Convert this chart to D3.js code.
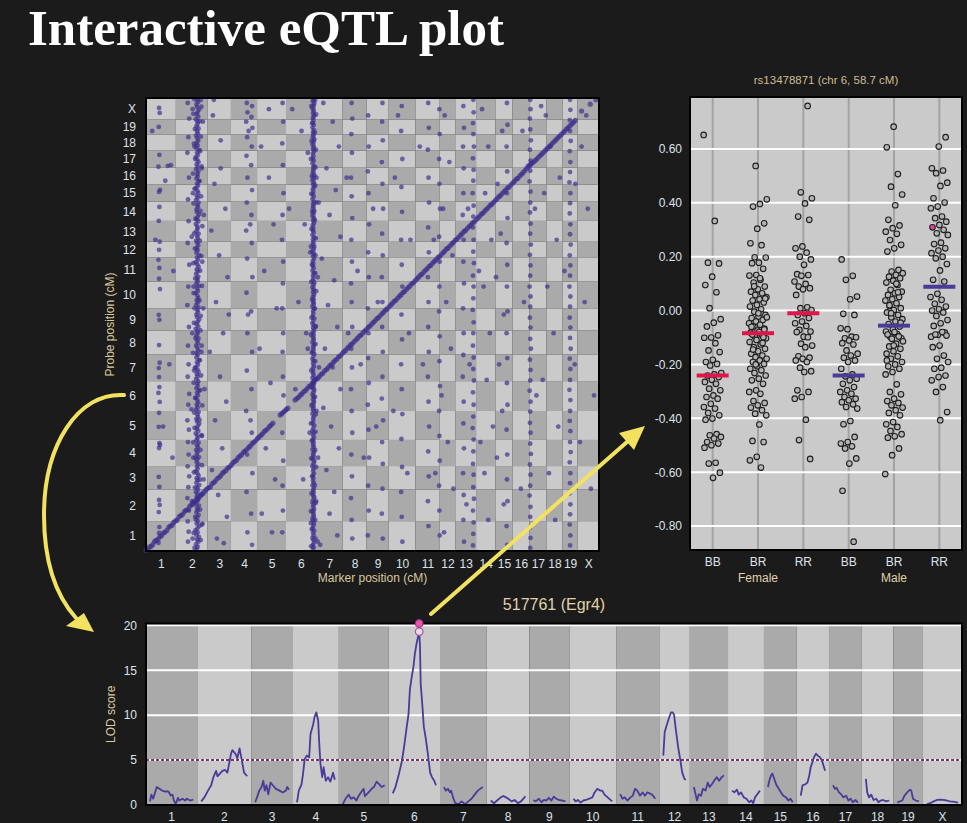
<!DOCTYPE html>
<html>
<head>
<meta charset="utf-8">
<script src="https://cdn.jsdelivr.net/npm/d3@7"></script>
<style>
  html, body { margin: 0; padding: 0; background: #1b1b1b; }
  svg { display: block; }
</style>
</head>
<body>
<svg id="chart" width="967" height="823"></svg>
<script>
// ---------- genome ----------
const chromosomes = ["1","2","3","4","5","6","7","8","9","10","11","12","13","14","15","16","17","18","19","X"];
const chrLengths = [96,102,75,84,93,96,86,77,71,86,78,50,67,62,55,54,55,52,48,69]; // cM

// ---------- cis/trans eQTL map: [marker position, probe position] pairs, genome-wide cM ----------
const cisPairs = [
0,2,6,4,11,13,17,15,22,21,28,31,33,34,39,38,45,47,50,49,56,58,61,60,67,66,73,76,78,80,84,83,89,92,95,97,100,99,106,110,112,114,117,117,123,126,128,131,134,133,140,143,145,148,151,150,156,158,162,166,167,169,173,175,179,182,184,186,190,193,195,199,201,203,207,206,212,216,218,220,223,225,229,233,235,237,240,242,246,250,251,254,257,259,263,267,268,270,274,276,279,283,285,288,291,292,296,300,302,305,307,309,313,317,318,321,324,326,330,333,335,337,341,345,346,349,352,354,358,361,363,366,369,372,374,376,380,384,385,388,391,393,397,400,402,405,408,411,
431,437,436,441,441,446,446,450,451,455,456,459,
479,485,485,490,490,494,496,501,501,505,507,512,513,516,518,522,524,529,529,532,535,540,540,543,546,551,552,555,557,561,563,568,568,571,574,579,580,583,585,589,591,596,596,599,602,606,607,612,613,616,619,624,624,627,630,634,635,640,641,644,647,651,652,656,658,663,663,666,669,673,675,679,680,684,686,691,691,694,697,701,703,707,708,712,714,719,719,722,725,729,731,735,736,740,742,747,747,750,753,757,759,763,764,768,770,775,775,778,781,785,787,791,792,796,798,803,803,806,809,813,815,819,820,824,826,831,831,834,837,841,843,847,848,852,854,859,859,862,865,869,871,875,876,880,882,887,887,890,893,897,899,903,904,908,910,915,915,918,921,925,927,931,932,936,938,943,943,946,949,953,955,959,960,964,966,971,971,974,977,981,983,987,988,992,994,999,999,1002,1005,1009,1011,1015,1016,1020,1022,1027,1027,1030,1033,1037,1039,1043,1044,1048,1050,1055,1055,1058,1061,1065,1067,1071,1072,1076,1078,1083,1083,1086,1089,1093,1095,1099,1100,1104,1106,1111,1111,1114,1117,1121,1123,1127,1128,1132,1134,1139,1139,1142,1145,1149,1151,1155,1156,1160,1162,1167,1167,1170,1173,1177,1179,1183,1184,1188,1190,1195,1195,1198,1201,1205,1207,1211,1212,1216,1218,1223,1223,1230,1229,1238,1232,1236,1236,1243,1240,1246,1245,1250,1251,1255,1256,1260,1262,1266,1268,1272,1273,1277,1279,1283,1285,1289,1290,1294,1296,1300,1301,1305,1307,1311,1313,1317,1318,1322,1324,1328,1329,1333,1335,1339,1341,1345,1346,1350,1352,1356,1357,1361,1363,1367,1369,1373,1374,1378,1380,1384,
1400,1414,1428,1436,1446,1450
];

const hotspotChr2Pairs = [
163,5,166,14,161,22,168,30,164,37,170,45,162,52,166,60,159,66,165,73,171,80,163,88,167,95,160,101,165,108,169,116,162,124,166,131,164,139,170,146,161,153,165,160,168,168,163,175,166,183,160,190,167,197,164,205,171,212,162,219,166,227,163,234,169,242,165,250,160,257,166,264,164,272,168,280,162,287,165,295,170,302,163,310,166,318,161,325,167,333,164,340,169,348,162,356,166,363,165,371,160,378,168,386,163,393,166,401,171,409,164,416,162,424,167,431,165,439,169,447,161,454,166,462,163,470,168,477,165,485,160,492,167,500,164,508,170,515,162,523,166,530,165,538,168,546,161,553,166,561,163,569,169,576,165,584,160,591,167,599,164,607,171,614,162,622,166,630,163,637,168,645,165,653,161,660,167,668,164,676,169,683,162,691,166,699,165,706,160,714,168,721,163,729,166,737,171,744,164,752,162,760,167,767,165,775,169,783,161,790,166,798,163,806,168,813,165,821,160,829,167,836,164,844,170,852,162,859,166,867,165,875,168,882,161,890,166,898,163,905,169,913,165,921,160,928,167,936,164,944,171,951,162,959,166,967,163,974,168,982,165,990,161,997,167,1005,164,1013,169,1020,162,1028,166,1036,165,1043,160,1051,168,1059,163,1066,166,1074,171,1082,164,1089,162,1097,167,1105,165,1112,169,1120,161,1128,166,1135,163,1143,168,1151,165,1158,160,1166,167,1174,164,1181,170,1189,162,1197,166,1204,165,1212,168,1220,161,1227,166,1235,163,1243,169,1250,165,1258,160,1266,167,1273,164,1281,171,1289,162,1296,166,1304,163,1312,168,1319,165,1327,161,1335,167,1342,164,1350,169,1358,162,1365,166,1373,165,1381,160,1388,168,1396,163,1404,166,1411,171,1419,164,1427,162,1435,167,1442,165,1450,
156,10,176,35,153,58,179,84,158,110,174,133,151,157,177,180,157,204,173,229,154,253,180,276,159,300,175,325,152,349,178,372,156,396,172,421,155,445,181,468,158,492,174,517,153,541,177,564,157,588,173,613,151,637,179,660,159,684,175,709,154,733,176,756,156,780,172,805,153,829,180,852,158,876,174,901,152,925,178,948,157,972,173,997,155,1021,181,1044,159,1068,175,1093,153,1117,177,1140,156,1164,172,1189,151,1213,179,1236,158,1260,174,1285,154,1309,176,1332,157,1356,173,1381,152,1405,178,1428,156,1452
];

const hotspotChr6Pairs = [
537,4,539,12,536,19,540,27,538,35,535,42,539,50,537,58,541,65,536,73,538,81,540,88,537,96,535,104,539,111,538,119,536,127,540,134,537,142,539,150,535,157,538,165,541,173,536,180,538,188,537,196,540,203,535,211,539,219,537,226,538,234,536,242,540,249,537,257,539,265,535,272,538,280,541,288,536,295,538,303,537,311,540,318,535,326,539,334,537,341,538,349,536,357,540,364,537,372,539,380,535,387,538,395,541,403,536,410,538,418,537,426,540,433,535,441,539,449,537,456,538,464,536,472,540,479,537,487,539,495,535,502,538,510,541,518,536,525,538,533,537,541,540,548,535,556,539,564,537,571,538,579,536,587,540,594,537,602,539,610,535,617,538,625,541,633,536,640,538,648,537,656,540,663,535,671,539,679,537,686,538,694,536,702,540,709,537,717,539,725,535,732,538,740,541,748,536,755,538,763,537,771,540,778,535,786,539,794,537,801,538,809,536,817,540,824,537,832,539,840,535,847,538,855,541,863,536,870,538,878,537,886,540,893,535,901,539,909,537,916,538,924,536,932,540,939,537,947,539,955,535,962,538,970,541,978,536,985,538,993,537,1001,540,1008,535,1016,539,1024,537,1031,538,1039,536,1047,540,1054,537,1062,539,1070,535,1077,538,1085,541,1093,536,1100,538,1108,537,1116,540,1123,535,1131,539,1139,537,1146,538,1154,536,1162,540,1169,537,1177,539,1185,535,1192,538,1200,541,1208,536,1215,538,1223,537,1231,540,1238,535,1246,539,1254,537,1261,538,1269,536,1277,540,1284,537,1292,539,1300,535,1307,538,1315,541,1323,536,1330,538,1338,537,1346,540,1353,535,1361,539,1369,537,1376,538,1384,536,1392,540,1399,537,1407,539,1415,535,1422,538,1430,541,1438,536,1445,538,1452,
531,15,545,40,533,70,544,100,530,128,546,155,532,185,543,212,534,240,547,270,531,298,544,325,533,355,545,383,530,410,546,440,532,468,543,495,534,525,547,553,531,580,544,610,533,638,545,665,530,695,546,723,532,750,543,780,534,808,547,835,531,865,544,893,533,920,545,950,530,978,546,1005,532,1035,543,1063,534,1090,547,1120,531,1148,544,1175,533,1205,545,1233,530,1260,546,1290,532,1318,543,1345,534,1375,547,1403,531,1430,544,1450
];

const otherTransPairs = [
42,1424,44,1408,41,1363,43,1273,40,1235,45,1161,42,1154,43,1106,41,1061,44,994,42,968,40,936,43,910,42,875,45,842,41,759,43,743,42,662,44,605,41,588,42,559,43,527,40,508,44,479,42,444,41,399,43,347,45,341,42,331,41,238,43,206,42,164,44,148,41,125,43,77,42,58,40,26,70,1238,80,1240,62,1190,20,1350,88,900,75,600,55,400,85,300,30,1000,
135,30,137,62,134,95,138,130,133,170,136,205,139,240,134,272,137,310,135,350,138,390,133,420,136,470,139,505,134,560,137,600,135,660,138,720,133,790,136,850,139,920,134,990,137,1060,135,1130,138,1200,133,1280,136,1330,139,1390,134,1440,
150,40,182,88,148,160,185,230,152,300,180,370,146,455,188,520,155,580,178,640,149,700,184,780,153,850,181,930,147,1010,186,1080,151,1150,179,1230,156,1300,183,1380,150,1420,176,1450,
215,1400,240,1320,220,1180,255,1100,210,1030,235,950,262,880,225,800,248,700,205,640,238,560,258,480,222,420,245,330,212,260,232,180,260,110,228,40,250,25,218,1450,240,1230,266,760,
324,1440,341,1430,326,1410,339,1395,322,1380,342,1360,325,1330,340,1300,323,1270,338,1240,326,1200,341,1160,324,1120,339,1080,322,1030,340,990,325,940,342,880,323,830,338,770,326,700,341,640,324,580,339,520,322,450,340,380,325,310,342,250,323,190,338,120,326,60,341,20,330,1350,335,1050,328,760,336,420,
439,1440,441,1380,438,1310,440,1240,442,1150,439,1080,437,1000,441,930,440,860,438,780,441,700,439,640,440,560,442,500,438,380,441,290,439,210,440,130,438,60,370,1300,395,1200,410,1050,380,900,420,780,365,650,400,540,385,330,415,230,372,120,405,60,395,1420,
470,1420,500,1350,520,1280,548,1200,555,1120,510,1050,528,960,552,880,490,800,545,720,520,650,556,590,480,520,548,450,526,380,553,300,505,230,547,160,530,90,552,30,460,1100,515,700,
570,1440,600,1380,620,1300,580,1230,610,1160,590,1080,625,1010,565,940,605,870,585,790,615,720,575,650,600,590,625,520,570,460,595,400,620,330,580,260,605,190,590,120,615,50,560,20,
661,1440,663,1390,660,1340,662,1280,659,1200,661,1140,663,1070,660,1000,662,930,659,860,661,800,663,720,660,650,662,590,659,520,661,450,663,380,660,310,662,240,659,170,661,100,663,40,645,1200,680,900,690,600,700,300,650,700,
714,1400,716,1300,713,1220,715,1150,717,1050,714,960,716,880,713,780,715,700,714,620,716,540,713,470,715,390,717,300,714,210,716,130,713,50,760,1440,759,1380,761,1320,758,1250,760,1180,762,1100,759,1020,761,950,758,880,760,800,759,720,761,640,760,560,758,490,762,420,759,350,761,280,760,200,758,120,761,40,730,1100,745,800,740,400,
822,1430,820,1350,824,1260,821,1170,823,1090,820,1000,822,920,824,850,821,760,823,680,820,600,822,520,824,440,821,360,823,270,820,190,822,110,824,30,800,1200,850,1000,845,700,795,450,840,250,810,1400,
907,1440,909,1360,906,1290,908,1200,910,1120,907,1040,909,960,906,880,908,800,907,720,909,640,906,560,908,480,910,400,907,320,909,240,906,160,908,80,943,1420,944,1340,942,1260,943,1180,945,1100,942,1010,944,930,943,850,942,770,944,690,943,610,945,530,942,450,943,370,944,290,942,210,943,130,944,50,880,1300,925,1000,890,600,930,250,
960,1400,975,1250,955,1100,985,950,965,800,980,650,950,500,970,350,988,200,958,60,
1020,1430,1022,1360,1019,1300,1021,1230,1020,1150,1018,1080,1021,1000,1020,930,1022,860,1019,780,1021,700,1020,630,1018,560,1021,480,1020,410,1022,330,1019,250,1021,180,1020,100,1022,30,
1052,1450,1053,1410,1051,1375,1052,1340,1054,1300,1051,1262,1053,1225,1052,1190,1050,1150,1053,1110,1052,1075,1051,1040,1053,1000,1052,962,1054,925,1051,885,1053,850,1052,812,1050,775,1053,735,1052,700,1051,660,1053,622,1052,585,1054,548,1051,510,1053,470,1052,432,1050,395,1053,358,1052,320,1051,280,1053,245,1052,205,1054,168,1051,130,1053,92,1052,55,1051,18,1035,1100,1070,900,1040,600,1075,350,1030,150,
1080,1420,1100,1300,1090,1150,1110,1000,1085,850,1105,700,1095,550,1115,400,1088,250,1100,100,1145,1350,1130,1180,1140,1020,1125,880,1150,760,1135,600,1145,450,1128,300,1150,150,
1160,1440,1162,1370,1159,1300,1161,1220,1160,1150,1162,1070,1159,990,1161,920,1160,850,1162,770,1159,700,1161,620,1160,540,1162,470,1159,390,1161,310,1160,230,1162,160,1159,80,1161,20,
1235,1450,1236,1420,1234,1390,1235,1355,1237,1320,1234,1290,1236,1255,1235,1222,1233,1188,1236,1155,1235,1120,1234,1088,1236,1052,1235,1020,1237,985,1234,952,1236,918,1235,885,1233,850,1236,818,1235,785,1234,750,1236,718,1235,682,1237,650,1234,615,1236,582,1235,548,1233,515,1236,480,1235,448,1234,412,1236,380,1235,345,1237,312,1234,278,1236,245,1235,210,1233,178,1236,142,1235,110,1234,75,1236,42,1235,10,1210,1350,1250,1100,1215,800,1255,500,1205,200,
1270,1430,1300,1300,1280,1150,1320,1000,1290,850,1310,700,1275,550,1325,400,1295,250,1315,100,1285,1400,1330,1200,
1363,1450,1364,1418,1362,1385,1363,1350,1365,1318,1362,1285,1364,1250,1363,1218,1361,1185,1364,1150,1363,1118,1362,1085,1364,1050,1363,1018,1365,985,1362,950,1364,918,1363,885,1361,850,1364,818,1363,785,1362,750,1364,718,1363,685,1365,650,1362,618,1364,585,1363,550,1361,518,1364,485,1363,450,1362,418,1364,385,1363,350,1365,318,1362,285,1364,250,1363,218,1361,185,1364,150,1363,118,1362,85,1364,50,1363,18,1380,1180,1345,900,1378,600,
1400,1300,1420,1100,1410,800,1440,500,1395,350,1430,200,1415,1400
];

// ---------- genome scan for probe 517761 (Egr4): [cM, LOD] per chromosome ----------
const lod1 = [0,0.4,3,1.15,7,0.7,10,1.2,15,2.0,21,1.8,27,1.6,34,1.5,41,1.5,46,1.05,50,1.15,53,0.5,57,0.1,62,0.8,65,0.5,72,0.7,78,0.5,82,0.7,89,0.5,96,0.6];
const lod2 = [0,0.4,7,0.85,15,1.6,22,2.2,27,3.1,33,3.8,36,3.2,40,3.4,47,3.8,53,3.9,58,3.6,62,4.6,66,5.7,69,6.1,76,5.7,80,5.2,85,6.3,90,5.0,95,3.6,102,3.2];
const lod3 = [0,0.3,4,0.85,9,1.6,14,2.0,18,2.7,21,1.6,25,2.2,29,1.2,34,2.5,39,2.2,46,1.8,54,1.6,61,1.4,68,1.6,71,2.0,75,1.7];
const lod4 = [0,0.3,4,1.6,10,2.3,13,3.3,17,5.1,22,5.5,27,5.3,30,7.9,36,9.0,39,9.8,43,10.3,47,9.4,49,7.2,52,4.6,56,3.1,59,4.2,64,2.7,69,3.1,74,2.6,80,3.6,84,2.8];
const lod5 = [0,0.1,6,0.7,13,1.15,18,0.7,24,0.85,30,0.5,35,1.0,40,1.4,46,1.8,49,1.0,57,1.4,64,1.8,69,2.0,75,2.6,81,2.3,86,2.0,93,2.2];
const lod6 = [0,1.3,6,2.0,13,3.3,20,4.8,25,6.4,31,8.7,35,10.1,38,12.8,42,14.2,46,15.4,49,16.8,53,18.0,58.7,19.3,60.5,17.6,62,13.5,66,10.9,69,8.7,73,7.5,78,5.7,83,3.6,87,3.1,92,2.7,96,2.2];
const lod7 = [0,2.0,4,1.6,9,1.8,13,1.4,16,1.6,20,0.85,25,0.2,32,0.1,39,0.4,47,0.1,54,0.4,61,0.7,68,1.15,75,1.6,86,2.0];
const lod8 = [0,0.5,7,0.2,14,0.5,21,0.8,28,1.0,34,0.85,39,0.7,46,0.4,53,0.56,60,0.2,67,0.4,74,0.8,77,0.95];
const lod9 = [0,0.56,5,0.4,12,0.7,18,0.3,23,0.56,29,0.5,34,0.8,40,0.5,45,0.93,51,0.7,56,0.56,64,0.5,71,0.4];
const lod10 = [0,0.7,5,0.4,10,0.56,16,0.26,22,0.5,28,0.56,35,0.7,42,0.85,47,1.4,53,1.8,59,1.6,64,1.6,69,1.15,76,0.85,86,0.4];
const lod11 = [0,1.2,5,0.7,10,0.85,16,0.5,23,0.85,28,1.04,33,1.8,38,1.6,44,1.04,50,1.4,55,1.04,60,1.4,65,1.3,71,1.15,78,0.7];
const lod12 = [0,5.5,3,8.1,7,8.8,12,9.6,17,10.3,21,10.3,24,10.0,28,8.3,33,6.4,38,4.9,42,3.6,47,2.9,50,2.8];
const lod13 = [0,2.0,4,1.15,7,0.5,11,1.2,16,1.04,20,1.8,26,1.6,31,2.5,35,2.0,40,2.3,45,2.7,51,3.1,56,2.7,62,3.1,67,3.3];
const lod14 = [0,1.6,5,1.4,11,1.7,15,1.15,20,1.4,26,0.85,32,0.7,38,0.3,43,0.5,47,0.2,51,0.85,56,1.2,62,1.6];
const lod15 = [0,2.0,3,2.7,7,3.3,10,3.5,14,2.9,19,2.2,24,1.8,29,1.4,34,1.04,40,0.85,45,0.5,50,0.7,55,0.3];
const lod16 = [0,1.04,4,2.2,10,2.3,15,2.5,19,3.3,22,4.2,27,4.9,30,5.4,34,5.7,38,5.5,43,5.3,48,4.8,54,3.8];
const lod17 = [0,2.2,4,1.8,8,1.9,13,1.4,18,1.2,23,0.85,29,1.04,34,0.5,39,0.7,44,0.3,50,0.56,55,0.26];
const lod18 = [0,2.9,3,1.4,7,0.85,12,1.15,17,0.56,23,0.7,28,0.3,33,0.5,38,0.56,45,0.4,52,0.5];
const lod19 = [0,0.3,6,0.4,11,0.5,16,1.04,22,1.4,28,1.7,31,1.6,35,0.7,41,0.5,48,0.4];
const lodX = [0,0.1,7,0.2,15,0.4,22,0.56,29,0.6,36,0.56,44,0.5,51,0.4,58,0.37,69,0.26];
const lodByChr = [lod1,lod2,lod3,lod4,lod5,lod6,lod7,lod8,lod9,lod10,lod11,lod12,lod13,lod14,lod15,lod16,lod17,lod18,lod19,lodX];
const lodTicks = [0,5,10,15,20];
const lodThreshold = 5;
const probeLabel = "517761 (Egr4)";
const selectedMarker = { name: "rs13478871", chr: "6", pos: 58.7, lod: 19.3 };

// ---------- phenotype by genotype at the selected marker ----------
const genotypeLabels = ["BB","BR","RR","BB","BR","RR"];
const sexLabels = ["Female","Male"];
const femaleBB = [0.652,0.333,0.178,0.175,0.126,0.095,0.068,0.009,-0.032,-0.045,-0.059,-0.092,-0.1,-0.101,-0.121,-0.148,-0.154,-0.183,-0.191,-0.198,-0.204,-0.232,-0.237,-0.241,-0.247,-0.257,-0.265,-0.272,-0.29,-0.296,-0.315,-0.321,-0.327,-0.346,-0.358,-0.364,-0.38,-0.389,-0.401,-0.405,-0.459,-0.463,-0.469,-0.475,-0.488,-0.494,-0.5,-0.509,-0.565,-0.568,-0.602,-0.621];
const femaleBR = [0.537,0.413,0.396,0.386,0.324,0.304,0.25,0.243,0.198,0.197,0.178,0.176,0.155,0.132,0.13,0.114,0.104,0.089,0.079,0.07,0.064,0.058,0.05,0.042,0.037,0.03,0.021,0.015,0.005,-0.004,-0.016,-0.022,-0.028,-0.035,-0.041,-0.047,-0.053,-0.059,-0.067,-0.074,-0.082,-0.09,-0.097,-0.103,-0.08,-0.089,-0.099,-0.109,-0.117,-0.126,-0.136,-0.142,-0.151,-0.16,-0.167,-0.173,-0.179,-0.185,-0.191,-0.198,-0.207,-0.216,-0.222,-0.232,-0.241,-0.253,-0.259,-0.272,-0.296,-0.302,-0.309,-0.336,-0.343,-0.352,-0.36,-0.37,-0.383,-0.389,-0.423,-0.484,-0.488,-0.543,-0.556,-0.583,0.09,0.045,-0.01,-0.06,-0.12,-0.2,-0.025,0.12,-0.145,-0.07];
const femaleRR = [0.76,0.439,0.417,0.398,0.349,0.337,0.238,0.231,0.215,0.2,0.19,0.17,0.135,0.132,0.129,0.108,0.099,0.089,0.083,0.079,0.058,0.012,0.009,0.002,-0.01,-0.016,-0.028,-0.041,-0.047,-0.057,-0.072,-0.078,-0.097,-0.08,-0.099,-0.123,-0.13,-0.136,-0.17,-0.175,-0.179,-0.185,-0.191,-0.212,-0.225,-0.228,-0.296,-0.302,-0.321,-0.327,-0.405,-0.481,-0.551];
const maleBB = [0.19,0.129,0.114,0.052,0.042,-0.012,-0.016,-0.069,-0.066,-0.097,-0.103,-0.099,-0.111,-0.121,-0.126,-0.148,-0.16,-0.167,-0.175,-0.185,-0.191,-0.216,-0.237,-0.244,-0.253,-0.259,-0.272,-0.284,-0.296,-0.302,-0.309,-0.321,-0.327,-0.333,-0.34,-0.348,-0.358,-0.364,-0.41,-0.422,-0.469,-0.488,-0.494,-0.504,-0.512,-0.549,-0.568,-0.669,-0.858];
const maleBR = [0.683,0.606,0.507,0.46,0.431,0.391,0.337,0.316,0.306,0.293,0.285,0.262,0.244,0.231,0.219,0.151,0.145,0.139,0.132,0.126,0.12,0.111,0.104,0.095,0.077,0.07,0.064,0.058,0.05,0.042,0.037,0.027,0.017,0.009,0.002,-0.007,-0.016,-0.025,-0.032,-0.041,-0.05,-0.059,-0.069,-0.078,-0.087,-0.097,-0.103,-0.08,-0.089,-0.096,-0.105,-0.114,-0.123,-0.133,-0.142,-0.151,-0.16,-0.17,-0.179,-0.191,-0.2,-0.207,-0.216,-0.228,-0.237,-0.274,-0.302,-0.311,-0.327,-0.336,-0.343,-0.352,-0.36,-0.37,-0.38,-0.389,-0.414,-0.422,-0.432,-0.447,-0.459,-0.467,-0.472,-0.512,-0.537,-0.607,0.1,0.02,-0.045,-0.13,-0.185,0.068,-0.01];
const maleRR = [0.644,0.609,0.528,0.52,0.51,0.475,0.463,0.417,0.401,0.386,0.38,0.349,0.343,0.33,0.318,0.309,0.3,0.287,0.281,0.252,0.247,0.231,0.223,0.213,0.2,0.194,0.173,0.149,0.114,0.108,0.062,0.05,0.04,0.025,0.015,0.005,0,-0.007,-0.02,-0.035,-0.047,-0.057,-0.082,-0.09,-0.097,-0.08,-0.089,-0.093,-0.13,-0.136,-0.167,-0.179,-0.191,-0.212,-0.216,-0.241,-0.247,-0.259,-0.284,-0.302,-0.377,-0.407];
const groupMeans = [-0.241,-0.084,-0.010,-0.241,-0.056,0.088];
const highlightedValue = 0.309; // individual in male RR
const phenoTicks = [-0.8,-0.6,-0.4,-0.2,0,0.2,0.4,0.6];

// ---------- styling ----------
const C = {
  bg: "#1b1b1b",
  light: "#cacaca",
  dark: "#aaaaaa",
  point: "#3b2d8c",
  curve: "#4a3b98",
  tick: "#dfe2ea",
  title: "#e0d2aa",
  axisTitle: "#d9c99b",
  yellow: "#f2e25f"
};
const font = "'Liberation Sans', Arial, sans-serif";

const svg = d3.select("#chart");
svg.append("rect").attr("width", 967).attr("height", 823).attr("fill", C.bg);

svg.append("text")
  .attr("x", 28).attr("y", 45)
  .attr("font-family", "'Liberation Serif', 'Times New Roman', serif")
  .attr("font-weight", "bold").attr("font-size", 51)
  .attr("fill", "#ffffff")
  .text("Interactive eQTL plot");

const toPairs = (flat, kind) => d3.range(0, flat.length, 2).map(i => ({ marker: flat[i], probe: flat[i + 1], kind }));
const chrStart = [];
let acc = 0;
chrLengths.forEach(l => { chrStart.push(acc); acc += l; });
const genomeLength = acc;

// ========== cis/trans map ==========
const T = { left: 146, right: 599, top: 98, bottom: 551 };
const xTop = d3.scaleLinear().domain([0, genomeLength]).range([T.left, T.right]);
const yTop = d3.scaleLinear().domain([0, genomeLength]).range([T.bottom, T.top]);
const gTop = svg.append("g");

const cells = [];
chromosomes.forEach((cx, i) => chromosomes.forEach((cy, j) => cells.push({ i, j })));
gTop.selectAll("rect.cell").data(cells).join("rect")
  .attr("x", d => xTop(chrStart[d.i]))
  .attr("width", d => xTop(chrStart[d.i] + chrLengths[d.i]) - xTop(chrStart[d.i]))
  .attr("y", d => yTop(chrStart[d.j] + chrLengths[d.j]))
  .attr("height", d => yTop(chrStart[d.j]) - yTop(chrStart[d.j] + chrLengths[d.j]))
  .attr("fill", d => (d.i + d.j) % 2 === 0 ? C.dark : C.light);

const allPairs = [].concat(
  toPairs(otherTransPairs, "trans"),
  toPairs(hotspotChr2Pairs, "trans"),
  toPairs(hotspotChr6Pairs, "trans"),
  toPairs(cisPairs, "cis"));
gTop.append("g").selectAll("circle").data(allPairs).join("circle")
  .attr("cx", d => xTop(d.marker)).attr("cy", d => yTop(d.probe))
  .attr("r", d => d.kind === "cis" ? 2.6 : 2.4)
  .attr("fill", C.point).attr("fill-opacity", 0.68);

gTop.append("rect")
  .attr("x", T.left).attr("y", T.top).attr("width", T.right - T.left).attr("height", T.bottom - T.top)
  .attr("fill", "none").attr("stroke", "#000").attr("stroke-width", 2);

const chrMid = chromosomes.map((c, i) => chrStart[i] + chrLengths[i] / 2);
const chrName = d => chromosomes[chrMid.indexOf(d)];

const xAxisTop = gTop.append("g").attr("transform", `translate(0,${T.bottom + 5})`)
  .call(d3.axisBottom(xTop).tickValues(chrMid).tickFormat(chrName).tickSize(0));
const yAxisTop = gTop.append("g").attr("transform", `translate(${T.left - 7},0)`)
  .call(d3.axisLeft(yTop).tickValues(chrMid).tickFormat(chrName).tickSize(0));
[xAxisTop, yAxisTop].forEach(a => {
  a.select(".domain").remove();
  a.selectAll("text").attr("fill", C.tick).attr("font-family", font).attr("font-size", 12);
});
gTop.append("text").attr("x", (T.left + T.right) / 2).attr("y", 582)
  .attr("text-anchor", "middle").attr("font-family", font).attr("font-size", 12)
  .attr("fill", C.axisTitle).text("Marker position (cM)");
gTop.append("text").attr("transform", `translate(114,${(T.top + T.bottom) / 2}) rotate(-90)`)
  .attr("text-anchor", "middle").attr("font-family", font).attr("font-size", 12)
  .attr("fill", C.axisTitle).text("Probe position (cM)");

// ========== phenotype panel ==========
const P = { left: 690, right: 962, top: 97, bottom: 550 };
const groups = [femaleBB, femaleBR, femaleRR, maleBB, maleBR, maleRR];
const xGroup = d3.scaleBand().domain(d3.range(6)).range([P.left, P.right]);
const yPheno = d3.scaleLinear().domain([-0.889, 0.793]).range([P.bottom, P.top]);
const gP = svg.append("g");
gP.append("rect").attr("x", P.left).attr("y", P.top).attr("width", P.right - P.left).attr("height", P.bottom - P.top)
  .attr("fill", C.light);
gP.selectAll("line.vg").data(d3.range(6)).join("line")
  .attr("x1", d => xGroup(d) + xGroup.bandwidth() / 2).attr("x2", d => xGroup(d) + xGroup.bandwidth() / 2)
  .attr("y1", P.top).attr("y2", P.bottom).attr("stroke", "#a3a3a3").attr("stroke-width", 2);
gP.selectAll("line.hg").data(phenoTicks).join("line")
  .attr("x1", P.left).attr("x2", P.right).attr("y1", d => yPheno(d)).attr("y2", d => yPheno(d))
  .attr("stroke", "#ffffff").attr("stroke-width", 2);

// spread points horizontally within each genotype column
const spread = (g, i) => (((i * 0.6180339887 + g * 0.37) % 1) - 0.5) * 18;
const phenoPoints = [];
groups.forEach((vals, g) => vals.forEach((v, i) => phenoPoints.push({ g, v, dx: spread(g, i) })));
gP.append("g").selectAll("circle").data(phenoPoints).join("circle")
  .attr("cx", d => xGroup(d.g) + xGroup.bandwidth() / 2 + d.dx)
  .attr("cy", d => yPheno(d.v))
  .attr("r", 2.8)
  .attr("fill", d => (d.g === 5 && d.v === highlightedValue) ? "#e0409c" : "#b4b4b4")
  .attr("stroke", "#1e1e1e").attr("stroke-width", 1.1);

gP.selectAll("line.mean").data(groupMeans).join("line")
  .attr("x1", (d, i) => xGroup(i) + xGroup.bandwidth() / 2 - 16)
  .attr("x2", (d, i) => xGroup(i) + xGroup.bandwidth() / 2 + 16)
  .attr("y1", d => yPheno(d)).attr("y2", d => yPheno(d))
  .attr("stroke", (d, i) => i < 3 ? "#e0164a" : "#4a3b98").attr("stroke-width", 4);

gP.append("rect").attr("x", P.left).attr("y", P.top).attr("width", P.right - P.left).attr("height", P.bottom - P.top)
  .attr("fill", "none").attr("stroke", "#000").attr("stroke-width", 2);

const yAxisP = gP.append("g").attr("transform", `translate(${P.left - 5},0)`)
  .call(d3.axisLeft(yPheno).tickValues(phenoTicks).tickFormat(d => d.toFixed(2)).tickSize(0));
yAxisP.select(".domain").remove();
yAxisP.selectAll("text").attr("fill", C.tick).attr("font-family", font).attr("font-size", 12);
const xAxisP = gP.append("g").attr("transform", `translate(0,${P.bottom + 4})`)
  .call(d3.axisBottom(xGroup).tickFormat(i => genotypeLabels[i]).tickSize(0));
xAxisP.select(".domain").remove();
xAxisP.selectAll("text").attr("fill", C.tick).attr("font-family", font).attr("font-size", 12);
gP.selectAll("text.sex").data(sexLabels).join("text")
  .attr("x", (d, i) => xGroup(i * 3 + 1) + xGroup.bandwidth() / 2).attr("y", 582)
  .attr("text-anchor", "middle").attr("font-family", font).attr("font-size", 12)
  .attr("fill", C.title).text(d => d);
gP.append("text").attr("x", (P.left + P.right) / 2).attr("y", 84)
  .attr("text-anchor", "middle").attr("font-family", font).attr("font-size", 11.5)
  .attr("fill", "#cdbb90")
  .text(`${selectedMarker.name} (chr ${selectedMarker.chr}, ${selectedMarker.pos} cM)`);

// ========== LOD curve ==========
const L = { left: 146, right: 962, top: 623.5, bottom: 805, gap: 8 };
const cmPx = (L.right - L.left - L.gap * chromosomes.length) / genomeLength;
const stripeStart = chromosomes.map((c, i) => L.left + i * L.gap + chrStart[i] * cmPx);
const xChr = chromosomes.map((c, i) => d3.scaleLinear().domain([0, chrLengths[i]])
  .range([stripeStart[i] + L.gap / 2, stripeStart[i] + L.gap / 2 + chrLengths[i] * cmPx]));
const yLod = d3.scaleLinear().domain([0, 20.2]).range([L.bottom, L.top]);
const gL = svg.append("g");

gL.selectAll("rect.stripe").data(chromosomes).join("rect")
  .attr("x", (d, i) => stripeStart[i])
  .attr("width", (d, i) => chrLengths[i] * cmPx + L.gap)
  .attr("y", L.top).attr("height", L.bottom - L.top)
  .attr("fill", (d, i) => i % 2 === 0 ? C.dark : C.light);
gL.selectAll("line.grid").data(lodTicks.filter(t => t > lodThreshold)).join("line")
  .attr("x1", L.left).attr("x2", L.right).attr("y1", d => yLod(d)).attr("y2", d => yLod(d))
  .attr("stroke", "#fff").attr("stroke-width", 2);
gL.append("line").attr("x1", L.left).attr("x2", L.right)
  .attr("y1", yLod(lodThreshold)).attr("y2", yLod(lodThreshold))
  .attr("stroke", "#fff").attr("stroke-width", 2);
gL.append("line").attr("x1", L.left).attr("x2", L.right)
  .attr("y1", yLod(lodThreshold)).attr("y2", yLod(lodThreshold))
  .attr("stroke", "#7e2f6e").attr("stroke-width", 2).attr("stroke-dasharray", "3,2");

const line = d3.line();
lodByChr.forEach((flat, i) => {
  const pts = d3.range(0, flat.length, 2).map(k => [xChr[i](flat[k]), yLod(flat[k + 1])]);
  gL.append("path").attr("d", line(pts)).attr("fill", "none")
    .attr("stroke", C.curve).attr("stroke-width", 1.8).attr("stroke-linejoin", "round");
});

gL.append("rect").attr("x", L.left).attr("y", L.top).attr("width", L.right - L.left).attr("height", L.bottom - L.top)
  .attr("fill", "none").attr("stroke", "#000").attr("stroke-width", 2);

const selIdx = chromosomes.indexOf(selectedMarker.chr);
gL.append("circle").attr("cx", xChr[selIdx](selectedMarker.pos)).attr("cy", yLod(selectedMarker.lod))
  .attr("r", 3.8).attr("fill", "#f3d3ee").attr("stroke", "#9b5a93").attr("stroke-width", 1.2);
gL.append("circle").attr("cx", xChr[selIdx](selectedMarker.pos)).attr("cy", L.top)
  .attr("r", 3.8).attr("fill", "#ee55a8").attr("stroke", "#8a3a86").attr("stroke-width", 1.2);

const yAxisL = gL.append("g").attr("transform", `translate(${L.left - 6},0)`)
  .call(d3.axisLeft(yLod).tickValues(lodTicks).tickSize(0));
yAxisL.select(".domain").remove();
yAxisL.selectAll("text").attr("fill", C.tick).attr("font-family", font).attr("font-size", 12);
gL.selectAll("text.chr").data(chromosomes).join("text")
  .attr("x", (d, i) => stripeStart[i] + (chrLengths[i] * cmPx + L.gap) / 2).attr("y", 821)
  .attr("text-anchor", "middle").attr("font-family", font).attr("font-size", 12)
  .attr("fill", C.tick).text(d => d);
gL.append("text").attr("transform", `translate(115,${(L.top + L.bottom) / 2}) rotate(-90)`)
  .attr("text-anchor", "middle").attr("font-family", font).attr("font-size", 12)
  .attr("fill", C.axisTitle).text("LOD score");
gL.append("text").attr("x", (L.left + L.right) / 2).attr("y", 610)
  .attr("text-anchor", "middle").attr("font-family", font).attr("font-size", 16)
  .attr("fill", C.title).text(probeLabel);

// ========== linking arrows ==========
const gA = svg.append("g");
gA.append("path")
  .attr("d", "M124,395 C78,392 44,445 44,515 C44,565 58,598 76,618")
  .attr("fill", "none").attr("stroke", C.yellow).attr("stroke-width", 4).attr("stroke-linecap", "round");
gA.append("path").attr("d", "M66,626 L84,613 L94,632 Z").attr("fill", C.yellow);
gA.append("path")
  .attr("d", "M431,614 L627,442")
  .attr("fill", "none").attr("stroke", C.yellow).attr("stroke-width", 4).attr("stroke-linecap", "round");
gA.append("path").attr("d", "M619,433 L645,426 L634,450 Z").attr("fill", C.yellow);
</script>
</body>
</html>
